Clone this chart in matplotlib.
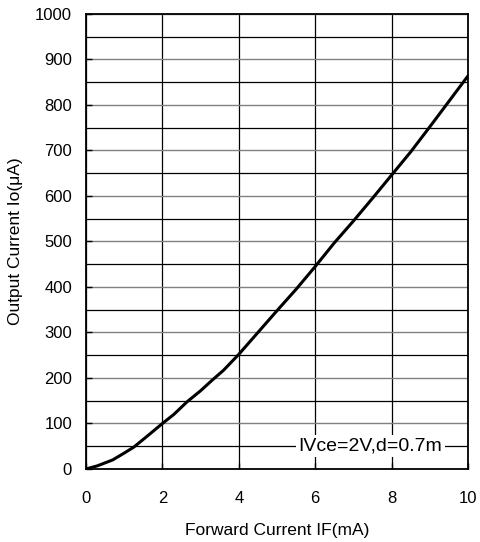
import numpy as np
import matplotlib.pyplot as plt
from matplotlib.ticker import MultipleLocator

plt.rcParams['font.family'] = ['Liberation Sans', 'DejaVu Sans']

# curve
forward_ma = [0, 0.3, 0.7, 1.0, 1.25, 1.6, 2.0, 2.3, 2.65, 3.0, 3.3, 3.6, 4.0,
              4.5, 5.0, 5.5, 6.0, 6.5, 7.0, 7.5, 8.0, 8.5, 9.0, 9.5, 10.0]
output_ua = [0, 7, 20, 35, 48, 72, 100, 120, 148, 172, 195, 217, 252,
             300, 348, 395, 445, 497, 545, 595, 646, 697, 752, 808, 864]

x_ticks = [0, 2, 4, 6, 8, 10]
y_ticks = np.arange(0, 1001, 100)
note = "IVce=2V,d=0.7m"

fig = plt.figure(figsize=(4.81, 5.42), dpi=100)
ax = fig.add_axes([0.1788, 0.1347, 0.7942, 0.8395])

ax.plot(forward_ma, output_ua, color="black", lw=2.2, zorder=3)

ax.set_xlim(0, 10)
ax.set_ylim(0, 1000)
ax.set_xticks(x_ticks)
ax.set_yticks(y_ticks)
ax.yaxis.set_minor_locator(MultipleLocator(50))

ax.grid(which="major", axis="y", color="#808080", lw=1.0)
ax.grid(which="minor", axis="y", color="black", lw=0.9)
ax.grid(which="major", axis="x", color="black", lw=0.9)

ax.tick_params(which="major", direction="in", length=4, width=1, labelsize=12)
ax.tick_params(axis="y", pad=10)
ax.tick_params(axis="x", pad=16)
ax.tick_params(which="minor", length=0)
for s in ax.spines.values():
    s.set_linewidth(1.3)

ax.set_xlabel("Forward Current IF(mA)", fontsize=12.5, labelpad=12)
ax.set_ylabel("Output Current Io(\u03bcA)", fontsize=12.5, labelpad=9)

ax.text(9.32, 50, note, ha="right", va="center", fontsize=14, zorder=4,
        bbox=dict(facecolor="white", edgecolor="none", pad=2))

fig.savefig("out.png", dpi=100)
